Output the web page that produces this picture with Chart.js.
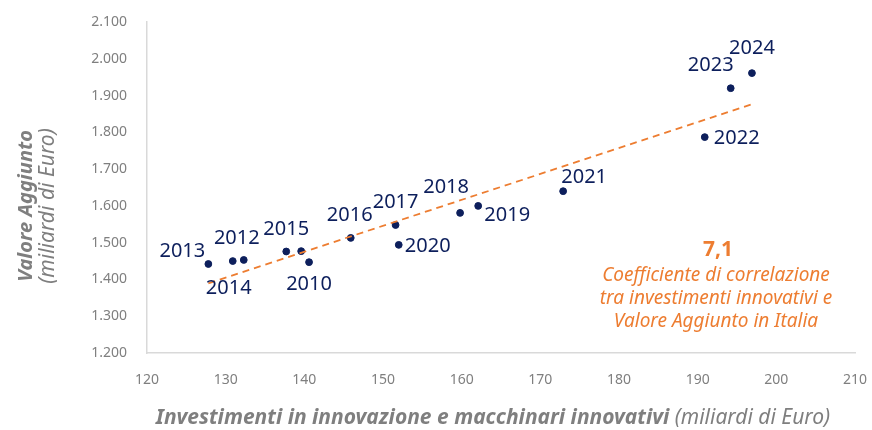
<!DOCTYPE html>
<html>
<head>
    <title>Investimenti in innovazione e Valore Aggiunto</title>
    <script src="https://cdn.jsdelivr.net/npm/chart.js"></script>
    <style>
        html, body { margin: 0; padding: 0; background: #ffffff; }
        .chart-container { width: 872px; height: 430px; position: relative; }
    </style>
</head>
<body>
    <div class="chart-container">
        <canvas id="scatterChart"></canvas>
    </div>

    <script>
        // anni (etichette dei punti)
        const years = [2010, 2011, 2012, 2013, 2014, 2015, 2016, 2017, 2018, 2019, 2020, 2021, 2022, 2023, 2024];
        // investimenti in innovazione (miliardi di Euro)
        const investimenti = [140.6, 137.7, 132.3, 127.8, 130.9, 139.6, 145.9, 151.6, 159.8, 162.1, 152.0, 172.9, 190.9, 194.2, 196.9];
        // valore aggiunto (miliardi di Euro)
        const valoreAggiunto = [1447, 1476, 1453, 1442, 1450, 1477, 1513, 1548, 1581, 1600, 1494, 1640, 1787, 1920, 1961];
        // quali punti hanno l'etichetta (2011 no)
        const showLabel = [true, false, true, true, true, true, true, true, true, true, true, true, true, true, true];
        // spostamento delle etichette rispetto al punto (px, centro testo)
        const labelOffsets = [
            [0, 22], [0, 0], [-7, -22], [-26, -13], [-4, 27], [-15, -22], [-1, -23],
            [0, -23], [-14, -26], [29, 9], [29, 1], [21, -14], [32, 1], [-20, -23], [0, -25]
        ];

        const xTicks = [120, 130, 140, 150, 160, 170, 180, 190, 200, 210];
        const yTicks = [1200, 1300, 1400, 1500, 1600, 1700, 1800, 1900, 2000, 2100];

        const navy = '#0d1f5c';
        const orange = '#ed7d31';
        const grey = '#7f7f7f';
        const fontFamily = '"Source Sans Pro", "Noto Sans", sans-serif';

        // retta di tendenza (minimi quadrati)
        const n = investimenti.length;
        const mx = investimenti.reduce((a, b) => a + b, 0) / n;
        const my = valoreAggiunto.reduce((a, b) => a + b, 0) / n;
        let sxy = 0, sxx = 0;
        for (let i = 0; i < n; i++) {
            sxy += (investimenti[i] - mx) * (valoreAggiunto[i] - my);
            sxx += (investimenti[i] - mx) * (investimenti[i] - mx);
        }
        const slope = sxy / sxx;
        const intercept = my - slope * mx;
        const xMin = Math.min(...investimenti);
        const xMax = Math.max(...investimenti);
        const trendData = [
            { x: xMin, y: intercept + slope * xMin },
            { x: xMax, y: intercept + slope * xMax }
        ];

        // 2100 -> "2.100"
        const formatIt = v => String(v).replace(/^(\d)(\d{3})$/, '$1.$2');

        // etichette dei punti, titoli degli assi e nota
        const extrasPlugin = {
            id: 'extras',
            afterDatasetsDraw(chart) {
                const ctx = chart.ctx;
                const meta = chart.getDatasetMeta(1);
                ctx.save();
                ctx.font = '20px ' + fontFamily;
                ctx.fillStyle = navy;
                ctx.textAlign = 'center';
                ctx.textBaseline = 'middle';
                meta.data.forEach((pt, i) => {
                    if (!showLabel[i]) return;
                    ctx.fillText(String(years[i]), pt.x + labelOffsets[i][0], pt.y + labelOffsets[i][1]);
                });

                // nota coefficiente
                ctx.fillStyle = orange;
                ctx.font = 'bold 21px ' + fontFamily;
                ctx.fillText('7,1', 718, 250);
                ctx.font = 'italic 19px ' + fontFamily;
                ctx.fillText('Coefficiente di correlazione', 716, 276);
                ctx.fillText('tra investimenti innovativi e', 716, 299);
                ctx.fillText('Valore Aggiunto in Italia', 716, 322);

                // titolo asse x
                ctx.fillStyle = grey;
                const boldPart = 'Investimenti in innovazione e macchinari innovativi';
                const normPart = ' (miliardi di Euro)';
                ctx.font = 'italic bold 21px ' + fontFamily;
                const w1 = ctx.measureText(boldPart).width;
                ctx.font = 'italic 21px ' + fontFamily;
                const w2 = ctx.measureText(normPart).width;
                const x0 = 493 - (w1 + w2) / 2;
                ctx.textAlign = 'left';
                ctx.font = 'italic bold 21px ' + fontFamily;
                ctx.fillText(boldPart, x0, 418);
                ctx.font = 'italic 21px ' + fontFamily;
                ctx.fillText(normPart, x0 + w1, 418);

                // titolo asse y
                ctx.translate(37, 206);
                ctx.rotate(-Math.PI / 2);
                ctx.textAlign = 'center';
                ctx.font = 'italic bold 20px ' + fontFamily;
                ctx.fillText('Valore Aggiunto', 0, -11);
                ctx.font = 'italic 21px ' + fontFamily;
                ctx.fillText('(miliardi di Euro)', 0, 11);
                ctx.restore();
            }
        };

        const ctx = document.getElementById('scatterChart').getContext('2d');
        new Chart(ctx, {
            type: 'scatter',
            data: {
                datasets: [
                    {
                        type: 'line',
                        label: 'Tendenza',
                        data: trendData,
                        borderColor: orange,
                        borderWidth: 1.8,
                        borderDash: [7, 5],
                        pointRadius: 0,
                        fill: false
                    },
                    {
                        label: 'Anni',
                        data: investimenti.map((v, i) => ({ x: v, y: valoreAggiunto[i] })),
                        backgroundColor: navy,
                        borderColor: navy,
                        pointRadius: 3.4,
                        pointHoverRadius: 3.4
                    }
                ]
            },
            options: {
                responsive: true,
                maintainAspectRatio: false,
                animation: false,
                layout: { padding: { left: 0, right: 17, top: 22, bottom: 0 } },
                plugins: {
                    legend: { display: false },
                    tooltip: { enabled: false }
                },
                scales: {
                    x: {
                        type: 'linear',
                        min: 120,
                        max: 210,
                        afterBuildTicks: s => { s.ticks = xTicks.map(v => ({ value: v })); },
                        afterFit: s => {
                            s.height = 77;
                            s.paddingLeft = 0;
                            s.paddingRight = 0;
                        },
                        grid: { display: false, drawTicks: false },
                        border: { display: true, color: '#d9d9d9', width: 1.5 },
                        ticks: {
                            color: grey,
                            padding: 19,
                            font: { family: fontFamily, size: 14 }
                        }
                    },
                    y: {
                        min: 1200,
                        max: 2100,
                        afterBuildTicks: s => { s.ticks = yTicks.map(v => ({ value: v })); },
                        afterFit: s => {
                            s.width = 147;
                            s.paddingTop = 0;
                            s.paddingBottom = 0;
                        },
                        grid: { display: false, drawTicks: false },
                        border: { display: true, color: '#d9d9d9', width: 1.5 },
                        ticks: {
                            color: grey,
                            padding: 20,
                            font: { family: fontFamily, size: 14 },
                            callback: v => formatIt(v)
                        }
                    }
                }
            },
            plugins: [extrasPlugin]
        });
    </script>
</body>
</html>
